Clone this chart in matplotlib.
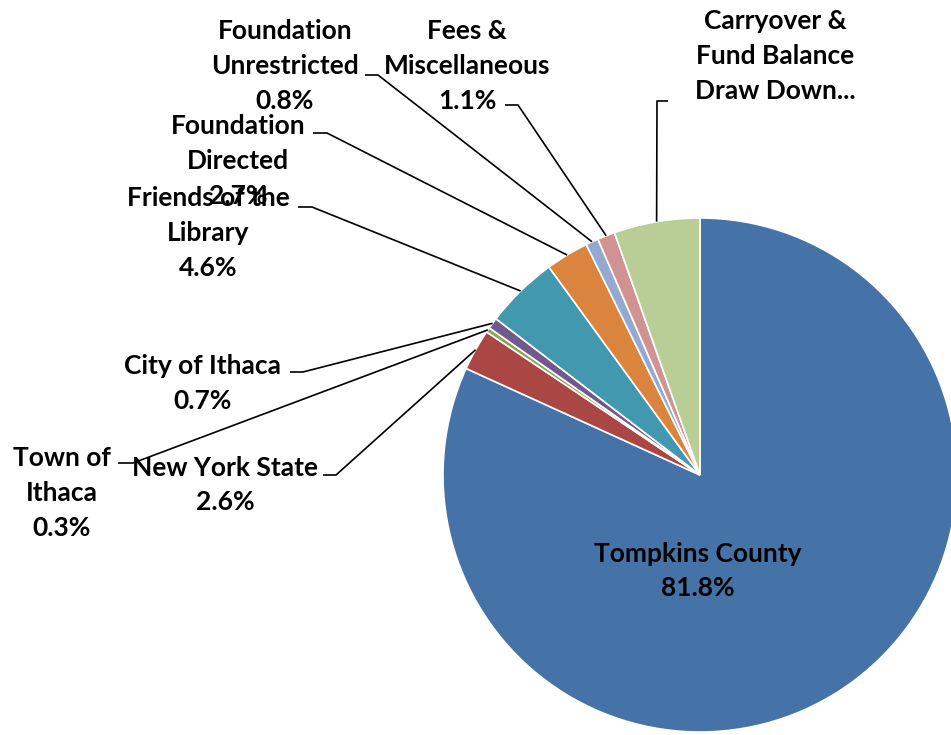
import numpy as np
import matplotlib
matplotlib.use("Agg")
import matplotlib.pyplot as plt

# revenue sources, clockwise from 12 o'clock
sources = ["Tompkins County", "New York State", "Town of\nIthaca", "City of Ithaca",
           "Friends of the\nLibrary", "Foundation\nDirected", "Foundation\nUnrestricted",
           "Fees &\nMiscellaneous", "Carryover &\nFund Balance\nDraw Down..."]
shares = [81.8, 2.6, 0.3, 0.7, 4.6, 2.7, 0.8, 1.1, 5.4]
colors = ["#4572A7", "#AA4643", "#89A54E", "#71588F", "#4198AF",
          "#DB843D", "#93A9CF", "#D19392", "#B9CD96"]

W, H = 951, 735
plt.rcParams['font.family'] = ['Lato', 'DejaVu Sans']

fig = plt.figure(figsize=(W / 100, H / 100), dpi=100)
ax = fig.add_axes([0, 0, 1, 1])

cx, cy, r = 700, H - 475, 257
wedges, _ = ax.pie(shares, colors=colors, startangle=90, counterclock=False,
                   center=(cx, cy), radius=r, frame=True,
                   wedgeprops=dict(edgecolor='white', linewidth=1.2))
ax.set_xlim(0, W)
ax.set_ylim(0, H)
ax.set_aspect('equal')
ax.axis('off')

# label layout in pixel coords (y from top): text centre, leader start, elbow
layout = {
    0: dict(text=(698, 571)),
    1: dict(text=(225, 485), lead=[(323, 475), (336, 475)]),
    2: dict(text=(62, 493), lead=[(118, 463), (133, 463)]),
    3: dict(text=(203, 383), lead=[(290, 372), (303, 372)]),
    4: dict(text=(208, 233), lead=[(298, 207), (312, 207)]),
    5: dict(text=(238, 161), lead=[(313, 133), (327, 133)]),
    6: dict(text=(285, 66), lead=[(365, 75), (378, 75)]),
    7: dict(text=(467, 66), lead=[(505, 105), (518, 105)]),
    8: dict(text=(775, 56), lead=[(668, 101), (657, 101)]),
}

for i, (name, val) in enumerate(zip(sources, shares)):
    lay = layout[i]
    tx, ty = lay['text']
    label = f"{name}\n{val:.1f}%"
    if i == 8:
        # Excel cut this one off before the percentage
        label = name
    ax.text(tx, H - ty, label, ha='center', va='center',
            fontsize=19, fontweight='bold', linespacing=1.55, color='black')
    if 'lead' in lay:
        w = wedges[i]
        mid = np.deg2rad((w.theta1 + w.theta2) / 2)
        ex, ey = cx + r * np.cos(mid), cy + r * np.sin(mid)
        xs = [p[0] for p in lay['lead']] + [ex]
        ys = [H - p[1] for p in lay['lead']] + [ey]
        ax.plot(xs, ys, color='black', linewidth=1.2, solid_capstyle='butt')

fig.savefig("out.png", dpi=100)
